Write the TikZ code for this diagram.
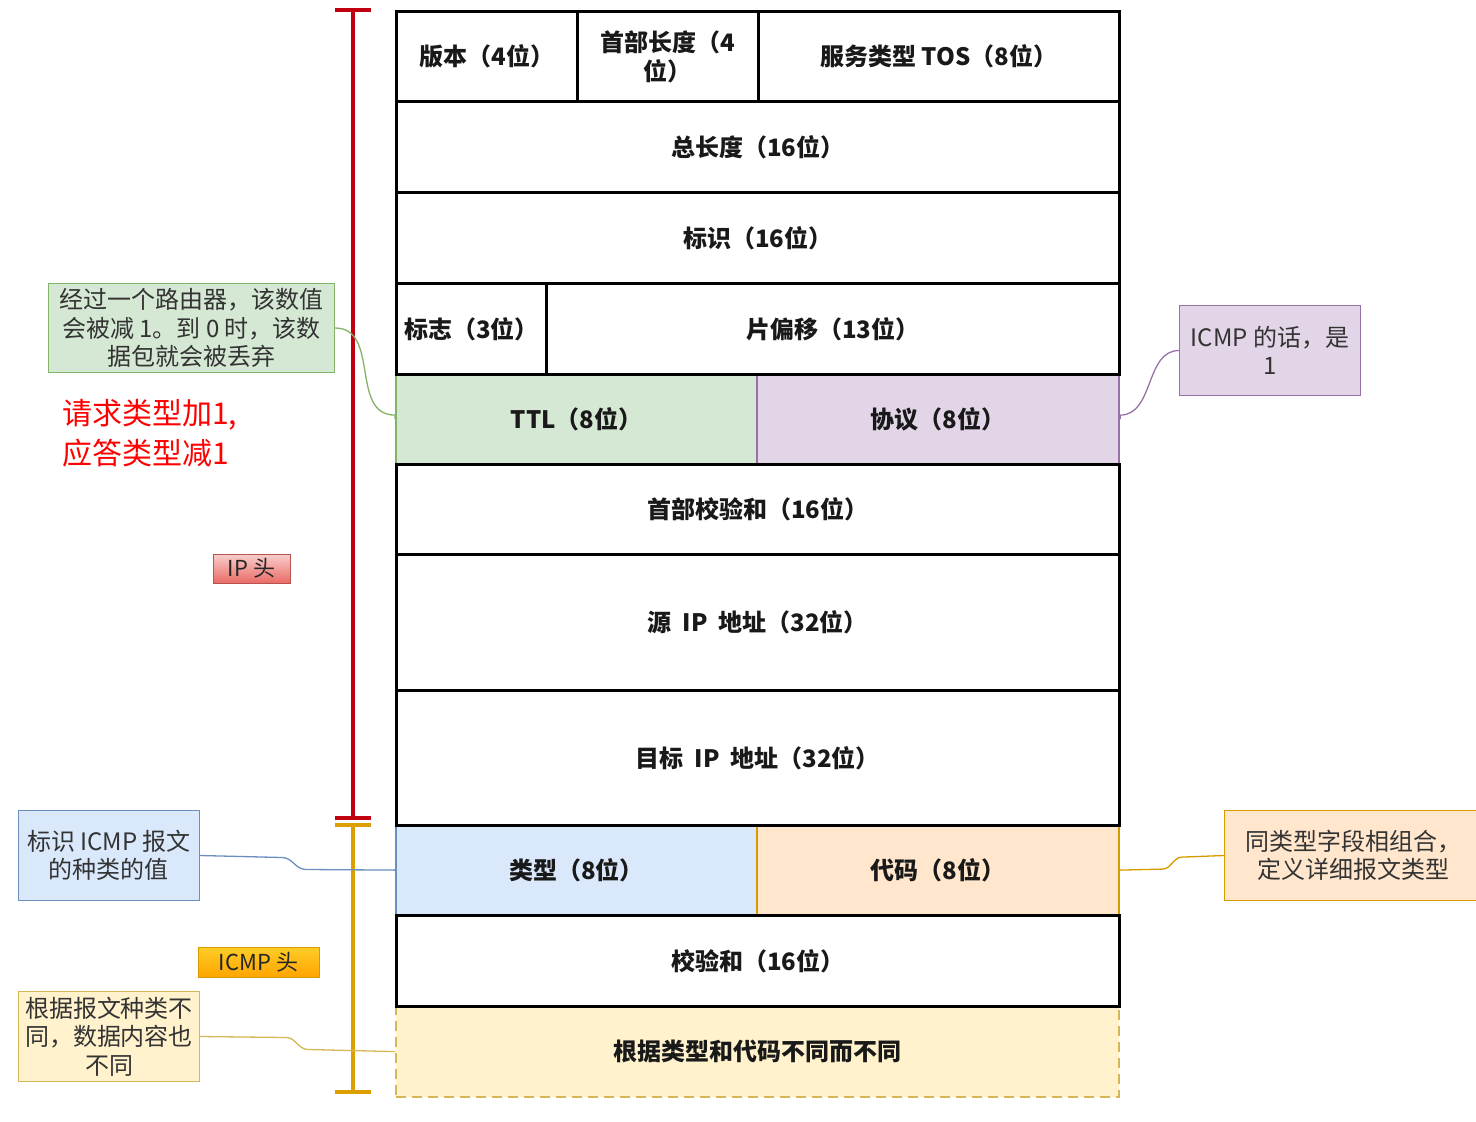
\documentclass[tikz,border=0pt]{standalone}
\usepackage{fontspec}
\setmainfont{Noto Sans CJK SC}
\usetikzlibrary{calc}
\definecolor{grnF}{HTML}{D5E8D4}\definecolor{grnS}{HTML}{82B366}
\definecolor{purF}{HTML}{E1D5E7}\definecolor{purS}{HTML}{9673A6}
\definecolor{bluF}{HTML}{DAE8FC}\definecolor{bluS}{HTML}{6C8EBF}
\definecolor{orgF}{HTML}{FFE6CC}\definecolor{orgS}{HTML}{D79B00}
\definecolor{yelF}{HTML}{FFF2CC}\definecolor{yelS}{HTML}{D6B656}
\definecolor{redS}{HTML}{B85450}\definecolor{redA}{HTML}{F8CECC}\definecolor{redB}{HTML}{EA6B66}
\definecolor{brkR}{HTML}{C00010}\definecolor{brkO}{HTML}{DBA000}
\definecolor{icA}{HTML}{FFCD28}\definecolor{icB}{HTML}{FFA500}
\definecolor{txt}{HTML}{333333}
\begin{document}
\begin{tikzpicture}[x=1pt,y=-1pt,
  cell/.style={draw=black, line width=2.8pt, anchor=north west, inner sep=0pt, align=center,
    font=\bfseries\fontsize{24}{29}\selectfont, text=black!90},
  ccell/.style={cell, line width=2.2pt},
  note/.style={draw, line width=1pt, anchor=north west, inner sep=0pt, align=center,
    font=\fontsize{24}{28.5}\selectfont, text=txt},
  tag/.style={draw, line width=1pt, inner sep=0pt, font=\fontsize{22}{26}\selectfont, text=black!85},
  link/.style={line width=1.3pt},
  brk/.style={line width=4pt}
]
\useasboundingbox (0,0) rectangle (1476,1122);

% coloured cells first
\node[ccell, fill=grnF, draw=grnS, minimum width=361pt, minimum height=90pt] (ttl) at (395,373) {TTL（8位）};
\node[ccell, fill=purF, draw=purS, minimum width=362pt, minimum height=90pt] (proto) at (756,373) {协议（8位）};
\node[ccell, fill=bluF, draw=bluS, minimum width=361pt, minimum height=90pt] (type) at (395,824) {类型（8位）};
\node[ccell, fill=orgF, draw=orgS, minimum width=362pt, minimum height=90pt] (code) at (756,824) {代码（8位）};
\node[ccell, fill=yelF, draw=yelS, dash pattern=on 10pt off 6pt, minimum width=723pt, minimum height=91pt] (data) at (395,1005) {根据类型和代码不同而不同};

% black cells
\node[cell, minimum width=181pt, minimum height=90pt] (ver) at (395,10) {版本（4位）};
\node[cell, minimum width=181pt, minimum height=90pt] (hlen) at (576,10) {首部长度（4\\位）};
\node[cell, minimum width=361pt, minimum height=90pt] (tos) at (757,10) {服务类型 TOS（8位）};
\node[cell, minimum width=723pt, minimum height=91pt] (tot) at (395,100) {总长度（16位）};
\node[cell, minimum width=723pt, minimum height=91pt] (ident) at (395,191) {标识（16位）};
\node[cell, minimum width=150pt, minimum height=91pt] (flag) at (395,282) {标志（3位）};
\node[cell, minimum width=573pt, minimum height=91pt] (frag) at (545,282) {片偏移（13位）};
\node[cell, minimum width=723pt, minimum height=90pt] (hcs) at (395,463) {首部校验和（16位）};
\node[cell, minimum width=723pt, minimum height=136pt] (src) at (395,553) {源 \ IP \ 地址（32位）};
\node[cell, minimum width=723pt, minimum height=135pt] (dst) at (395,689) {目标 \ IP \ 地址（32位）};
\node[cell, minimum width=723pt, minimum height=91pt] (cks) at (395,914) {校验和（16位）};

% brackets
\coordinate (rt) at (353,10); \coordinate (rb) at (353,818);
\draw[brk, brkR] (rt) -- (rb);
\draw[brk, brkR] ($(rt)+(-18,0)$) -- ++(36,0);
\draw[brk, brkR] ($(rb)+(-18,0)$) -- ++(36,0);
\coordinate (ot) at (353,825); \coordinate (ob) at (353,1092);
\draw[brk, brkO] (ot) -- (ob);
\draw[brk, brkO] ($(ot)+(-18,0)$) -- ++(36,0);
\draw[brk, brkO] ($(ob)+(-18,0)$) -- ++(36,0);

% labels
\node[tag, draw=redS, top color=redA, bottom color=redB, minimum width=77pt, minimum height=29pt] (iph) at (251.5,568.5) {IP 头};
\node[tag, draw=orgS, top color=icA, bottom color=icB, minimum width=121pt, minimum height=30pt] (icmph) at (258.5,962) {ICMP 头};
\node[anchor=west, align=left, text=red, font=\fontsize{30}{40}\selectfont, inner sep=0pt] (redtxt) at (62,433) {请求类型加1,\\应答类型减1};

% notes
\node[note, draw=grnS, fill=grnF, minimum width=286pt, minimum height=89pt] (ngrn) at (48,283) {经过一个路由器，该数值\\会被减 1。到 0 时，该数\\据包就会被丢弃};
\node[note, draw=purS, fill=purF, minimum width=181pt, minimum height=90pt] (npur) at (1179,305) {ICMP 的话，是\\1};
\node[note, draw=bluS, fill=bluF, minimum width=181pt, minimum height=90pt] (nblu) at (18,810) {标识 ICMP 报文\\的种类的值};
\node[note, draw=yelS, fill=yelF, minimum width=181pt, minimum height=90pt] (nyel) at (18,991) {根据报文种类不\\同，数据内容也\\不同};
\node[note, draw=orgS, fill=orgF, minimum width=258pt, minimum height=90pt] (norg) at (1224,810) {同类型字段相组合，\\定义详细报文类型};

% connectors
\draw[link, grnS] (ngrn.east) to[out=0, in=180, looseness=1.1] ($(ttl.west)+(0,-4)$) -- (ttl.west);
\draw[link, purS] (npur.west) to[out=180, in=0, looseness=1] ($(proto.east)+(0,-4)$) -- (proto.east);
\draw[link, bluS] (nblu.east) -- ++(82,2) to[out=0, in=180] ++(24,12) -- (type.west);
\draw[link, yelS] (nyel.east) -- ++(86,1) to[out=0, in=180] ++(22,12) -- (data.west);
\draw[link, orgS] (code.east) -- ++(42,-1) to[out=0, in=180] ++(20,-12) -- (norg.west);
\end{tikzpicture}
\end{document}
